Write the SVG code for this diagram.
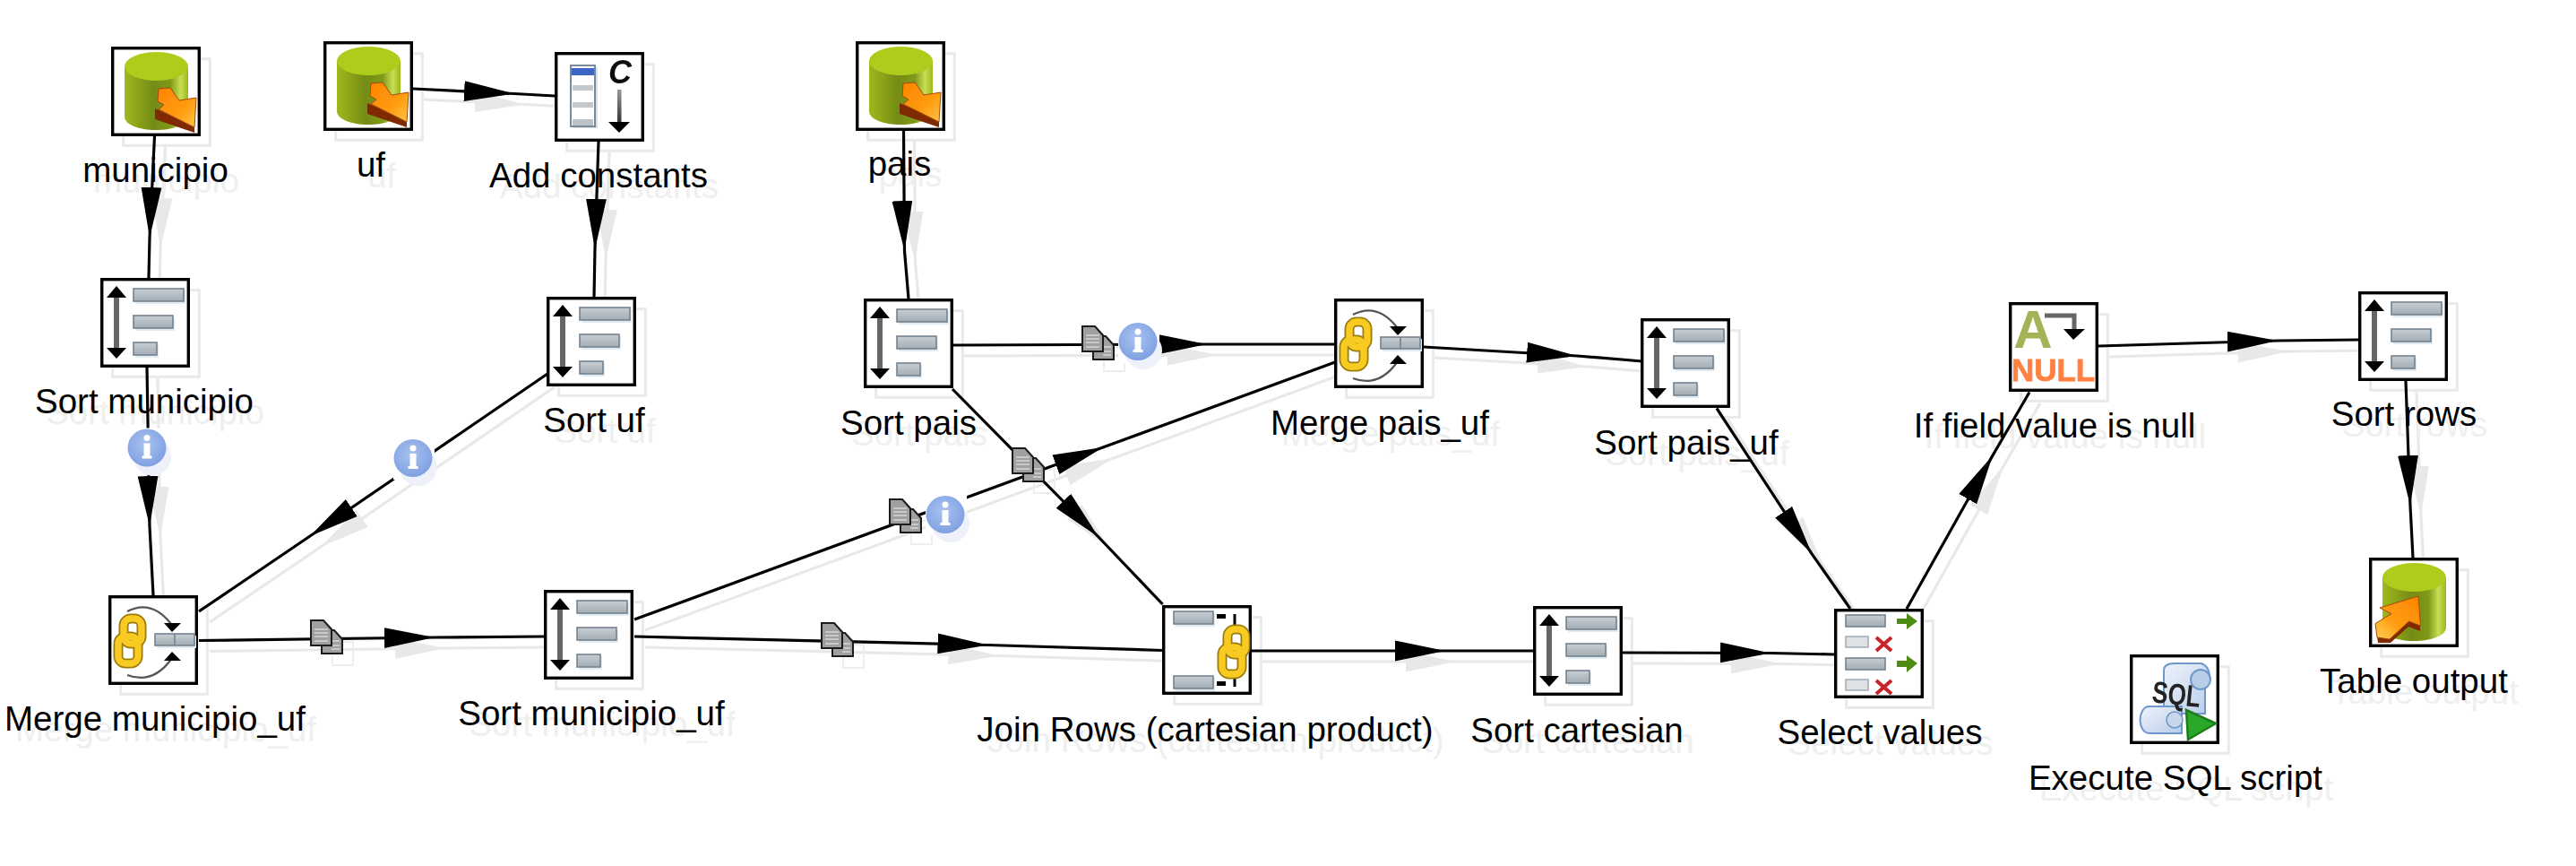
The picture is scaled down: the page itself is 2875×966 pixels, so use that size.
<svg xmlns="http://www.w3.org/2000/svg" width="2875" height="966" viewBox="0 0 2875 966">
<style>
text{font-family:"Liberation Sans",Arial,sans-serif}
.node{fill:#000}
.lbl{font-size:38.5px;text-anchor:middle}
.ls{fill:#efefef}
.bx{fill:#fff;stroke:#000;stroke-width:3.4}
.bs{fill:none;stroke:#e9e9e9;stroke-width:3}
.c{fill:none;stroke:#000;stroke-width:3.2;marker-mid:url(#head)}
.bar{fill:url(#barFill);stroke:#74838f;stroke-width:1.6}
.barl{fill:#dfe2e5;stroke:#a5b0b8;stroke-width:1.6}
.bsh{fill:#e2eaf2}
.link{fill:none;stroke:#9a7c10;stroke-width:11}
.linki{fill:none;stroke:#f8ca20;stroke-width:7.5}
.arc{fill:none;stroke:#555;stroke-width:2.2}
.blk{fill:#000}
.page{fill:#a0a0a0;stroke:#1c1c1c;stroke-width:2}
.pl{stroke:#d6d6d6;stroke-width:1.6}
.x{stroke:#c9232a;stroke-width:4;fill:none}
.hs{fill:none;stroke:#eee;stroke-width:2}
</style>
<defs>
<marker id="head" markerUnits="userSpaceOnUse" markerWidth="56" markerHeight="24" viewBox="0 0 54 22" refX="54" refY="11" orient="auto"><polygon points="0,0 54,11 0,22" fill="#000"/></marker>
<filter id="ghost" filterUnits="userSpaceOnUse" x="0" y="0" width="2875" height="966" color-interpolation-filters="sRGB"><feColorMatrix type="matrix" values="0 0 0 0 .91 0 0 0 0 .91 0 0 0 0 .91 0 0 0 1 0"/></filter>
<filter id="soft" x="-10%" y="-10%" width="120%" height="120%"><feGaussianBlur stdDeviation=".55"/></filter>
<linearGradient id="barFill" x1="0" y1="0" x2="0" y2="1"><stop offset="0" stop-color="#c8ced3"/><stop offset="1" stop-color="#a3adb5"/></linearGradient>
<linearGradient id="cyl" x1="0" y1="0" x2="1" y2="0"><stop offset="0" stop-color="#a0b81e"/><stop offset=".45" stop-color="#748c12"/><stop offset=".72" stop-color="#80991a"/><stop offset=".88" stop-color="#c8df52"/><stop offset="1" stop-color="#9ab81c"/></linearGradient>
<linearGradient id="ora" x1="0" y1="0" x2="1" y2="1"><stop offset="0" stop-color="#ff8400"/><stop offset=".6" stop-color="#ff9c10"/><stop offset="1" stop-color="#ffc64a"/></linearGradient>
<linearGradient id="ora2" x1="1" y1="0" x2="0" y2="1"><stop offset="0" stop-color="#ff8400"/><stop offset=".6" stop-color="#ff9c10"/><stop offset="1" stop-color="#ffd35a"/></linearGradient>
<linearGradient id="shaft" x1="0" y1="0" x2="0" y2="1"><stop offset="0" stop-color="#999"/><stop offset="1" stop-color="#333"/></linearGradient>
<linearGradient id="paper" x1="0" y1="0" x2="1" y2="1"><stop offset="0" stop-color="#eef3fb"/><stop offset="1" stop-color="#b9cde9"/></linearGradient>
<radialGradient id="inf" cx=".45" cy=".4" r=".65"><stop offset="0" stop-color="#a9c3f0"/><stop offset="1" stop-color="#7c9de0"/></radialGradient>
<g id="box"><rect class="bs" x="13.7" y="13.7" width="96.6" height="96.6"/><rect class="bx" x="1.7" y="1.7" width="96.6" height="96.6"/></g>
<g id="i-sort" filter="url(#soft)">
<rect class="bsh" x="39" y="14" width="56" height="15"/><rect class="bsh" x="39" y="44" width="44" height="15"/><rect class="bsh" x="39" y="74" width="26" height="15"/>
<rect x="15" y="18" width="6" height="64" fill="#666"/>
<polygon class="blk" points="18,9 29,22 7,22"/><polygon class="blk" points="18,90 29,78 7,78"/>
<rect class="bar" x="37" y="12" width="56" height="14"/><rect class="bar" x="37" y="42" width="44" height="14"/><rect class="bar" x="37" y="72" width="26" height="14"/>
</g>
<g id="i-cyl"><path d="M15 22V78C15 87 31 93 50 93S86 87 86 78V22Z" fill="url(#cyl)"/><ellipse cx="50.500" cy="22" rx="35.500" ry="16" fill="#afcb1e"/></g>
<g id="i-in" filter="url(#soft)"><use href="#i-cyl"/>
<polygon points="49,69 93,88 93,96 49,81" fill="#7f2a06"/>
<polygon points="53,47 66,46 76,60 95,57 93,90 53,70 59,65 52,61" fill="url(#ora)" stroke="#a8480a" stroke-width="1"/></g>
<g id="i-out" filter="url(#soft)"><use href="#i-cyl"/>
<polygon points="57,76 57,82 44,77 24,95 10,95 7,73 23,91 44,71" fill="#7f2a06"/>
<polygon points="55,43 57.500,76 44.600,71 23,91 9,89 7,73.600 25,62.600 12,56" fill="url(#ora2)" stroke="#a8480a" stroke-width="1"/></g>
<g id="chain"><rect class="link" x="11" y="5" width="20" height="28" rx="8"/><rect class="link" x="5" y="25" width="22" height="30" rx="8"/>
<rect class="linki" x="5" y="25" width="22" height="30" rx="8"/><rect class="linki" x="11" y="5" width="20" height="28" rx="8"/></g>
<g id="i-merge" filter="url(#soft)">
<path class="arc" d="M21 18Q48 4 70 32"/><path class="arc" d="M21 89Q50 100 71 70"/>
<use href="#chain" x="6" y="21"/>
<polygon class="blk" points="62,31 81,31 71,41"/><polygon class="blk" points="62,73 81,73 71,63"/>
<rect class="bsh" x="54" y="45" width="44" height="14"/><rect class="bar" x="52" y="43" width="44" height="13"/><line x1="74" y1="43" x2="74" y2="56" stroke="#74838f" stroke-width="1.600"/>
</g>
<g id="i-const" filter="url(#soft)">
<rect x="21" y="17" width="27" height="68" fill="#d6e2ee"/>
<rect x="18" y="15" width="27" height="68" fill="#fff" stroke="#7a8a96" stroke-width="2"/>
<rect x="19" y="18" width="25" height="8" fill="#3d66c4"/>
<rect x="20" y="37" width="23" height="6" fill="#c3c8cc"/><rect x="20" y="56" width="23" height="6" fill="#c3c8cc"/><rect x="20" y="75" width="23" height="7" fill="#bcc2c7"/>
<text x="60" y="35" font-size="36" font-style="italic" font-weight="bold" font-family="'Liberation Serif',serif" fill="#111">C</text>
<rect x="70" y="42" width="4.500" height="37" fill="url(#shaft)"/><polygon class="blk" points="60,78 84,78 72,90"/>
</g>
<g id="i-join" filter="url(#soft)">
<rect class="bsh" x="15" y="9" width="44" height="15"/><rect class="bar" x="13" y="7" width="44" height="14"/>
<rect class="blk" x="61" y="10" width="10" height="5"/><rect class="blk" x="79.500" y="10" width="3" height="13"/>
<rect class="bsh" x="15" y="81" width="44" height="15"/><rect class="bar" x="13" y="79" width="44" height="14"/>
<rect class="blk" x="61" y="85" width="10" height="5"/><rect class="blk" x="79.500" y="80" width="3" height="11"/>
<use href="#chain" x="62" y="22"/>
</g>
<g id="i-select" filter="url(#soft)">
<rect class="bar" x="13" y="7" width="44" height="13"/><rect class="barl" x="13" y="31" width="25" height="12"/>
<rect class="bar" x="13" y="55" width="44" height="13"/><rect class="barl" x="13" y="79" width="25" height="12"/>
<polygon points="70,11 81,11 81,5 93,14 81,23 81,17 70,17" fill="#4f8c12"/>
<polygon points="70,58 81,58 81,52 93,61 81,71 81,65 70,65" fill="#4f8c12"/>
<path class="x" d="M47 32L64 47M64 32L47 47"/><path class="x" d="M47 80L64 95M64 80L47 95"/>
</g>
<g id="i-null" filter="url(#soft)">
<text x="27" y="51" font-size="60" font-weight="bold" font-family="'Liberation Serif',serif" text-anchor="middle" fill="#a3b456">A</text>
<path d="M40 15H73V32" fill="none" stroke="#666" stroke-width="5"/><polygon class="blk" points="61,30 85,30 72,42"/>
<text x="3" y="88" font-size="35" font-weight="bold" textLength="93" lengthAdjust="spacingAndGlyphs" fill="#ff8040" stroke="#ff8040" stroke-width=".8">NULL</text>
</g>
<g id="i-sql" filter="url(#soft)">
<path d="M38 18C38 12 44 10 50 10H80C90 14 92 28 84 38V66H38Z" fill="url(#paper)" stroke="#6e97ca" stroke-width="2"/>
<circle cx="79" cy="28" r="11" fill="#b9cde9" stroke="#6e97ca" stroke-width="2"/>
<path d="M22 58H58V88H22C8 88 8 58 22 58Z" fill="url(#paper)" stroke="#6e97ca" stroke-width="2"/>
<circle cx="50" cy="73" r="9" fill="#c6d6ec" stroke="#6e97ca" stroke-width="1.500"/>
<text x="25" y="56" font-size="34" font-weight="bold" textLength="54" lengthAdjust="spacingAndGlyphs" fill="#222" transform="rotate(6 50 45)">SQL</text>
<polygon points="63,62 96,77 65,95" fill="#2ba82b" stroke="#1c7d1c" stroke-width="2.500"/>
</g>
<g id="copy">
<path class="page" d="M13 12H27L36 22V38H13Z"/>
<path class="pl" d="M24 24H33M24 29H33M24 33H33"/>
<path class="page" d="M1 1H15L24 11V29H1Z"/>
<path class="pl" d="M5 11H20M5 15H20M5 19H20M5 24H20"/>
</g>
<rect id="copy-shadow" class="hs" x="25" y="25" width="23" height="26"/>
<g id="info">
<rect x="-22" y="-22" width="46" height="46" fill="#fff"/>
<ellipse cx="6" cy="10" rx="21" ry="21" fill="#eef1fa"/>
<ellipse cx="0" cy="0" rx="21.500" ry="21" fill="url(#inf)" filter="url(#soft)"/>
<circle cx="0" cy="-11" r="3.500" fill="#fff"/><rect x="-3.500" y="-5" width="7" height="15" fill="#fff"/><rect x="-5.500" y="9" width="11" height="3" fill="#fff"/>
</g>
</defs>
<rect width="2875" height="966" fill="#fff"/>
<use id="connector-shadows" href="#connectors" x="12" y="12" filter="url(#ghost)"/>
<g id="hop-shadows">
<use href="#copy-shadow" x="346" y="691"/>
<use href="#copy-shadow" x="992" y="556"/>
<use href="#copy-shadow" x="916" y="694"/>
<use href="#copy-shadow" x="1207" y="363"/>
<use href="#copy-shadow" x="1129" y="499"/>
</g>
<g id="nodes">
<g class="node" id="node-municipio"><use href="#box" x="124" y="52"/><use href="#i-in" x="124" y="52"/><use class="ls" href="#l1" x="12" y="12"/><text id="l1" class="lbl" x="173.500" y="203">municipio</text></g>
<g class="node" id="node-uf"><use href="#box" x="361" y="46"/><use href="#i-in" x="361" y="46"/><use class="ls" href="#l2" x="12" y="12"/><text id="l2" class="lbl" x="414" y="197">uf</text></g>
<g class="node" id="node-add-constants"><use href="#box" x="619" y="58"/><use href="#i-const" x="619" y="58"/><use class="ls" href="#l3" x="12" y="12"/><text id="l3" class="lbl" x="668" y="209">Add constants</text></g>
<g class="node" id="node-pais"><use href="#box" x="955" y="46"/><use href="#i-in" x="955" y="46"/><use class="ls" href="#l4" x="12" y="12"/><text id="l4" class="lbl" x="1004" y="196">pais</text></g>
<g class="node" id="node-sort-municipio"><use href="#box" x="112" y="310"/><use href="#i-sort" x="112" y="310"/><use class="ls" href="#l5" x="12" y="12"/><text id="l5" class="lbl" x="161" y="461">Sort municipio</text></g>
<g class="node" id="node-sort-uf"><use href="#box" x="610" y="331"/><use href="#i-sort" x="610" y="331"/><use class="ls" href="#l6" x="12" y="12"/><text id="l6" class="lbl" x="663" y="482">Sort uf</text></g>
<g class="node" id="node-sort-pais"><use href="#box" x="964" y="333"/><use href="#i-sort" x="964" y="333"/><use class="ls" href="#l7" x="12" y="12"/><text id="l7" class="lbl" x="1014" y="485">Sort pais</text></g>
<g class="node" id="node-merge-pais-uf"><use href="#box" x="1489" y="333"/><use href="#i-merge" x="1489" y="333"/><use class="ls" href="#l8" x="12" y="12"/><text id="l8" class="lbl" x="1540" y="485">Merge pais_uf</text></g>
<g class="node" id="node-sort-pais-uf"><use href="#box" x="1831" y="355"/><use href="#i-sort" x="1831" y="355"/><use class="ls" href="#l9" x="12" y="12"/><text id="l9" class="lbl" x="1882" y="507">Sort pais_uf</text></g>
<g class="node" id="node-if-null"><use href="#box" x="2242" y="337"/><use href="#i-null" x="2242" y="337"/><use class="ls" href="#l10" x="12" y="12"/><text id="l10" class="lbl" x="2293" y="488">If field value is null</text></g>
<g class="node" id="node-sort-rows"><use href="#box" x="2632" y="325"/><use href="#i-sort" x="2632" y="325"/><use class="ls" href="#l11" x="12" y="12"/><text id="l11" class="lbl" x="2683" y="475">Sort rows</text></g>
<g class="node" id="node-table-output"><use href="#box" x="2644" y="622"/><use href="#i-out" x="2644" y="622"/><use class="ls" href="#l12" x="12" y="12"/><text id="l12" class="lbl" x="2694" y="773">Table output</text></g>
<g class="node" id="node-merge-municipio-uf"><use href="#box" x="121" y="664"/><use href="#i-merge" x="121" y="664"/><use class="ls" href="#l13" x="12" y="12"/><text id="l13" class="lbl" x="173" y="815">Merge municipio_uf</text></g>
<g class="node" id="node-sort-municipio-uf"><use href="#box" x="607" y="658"/><use href="#i-sort" x="607" y="658"/><use class="ls" href="#l14" x="12" y="12"/><text id="l14" class="lbl" x="660" y="809">Sort municipio_uf</text></g>
<g class="node" id="node-join-rows"><use href="#box" x="1297" y="675"/><use href="#i-join" x="1297" y="675"/><use class="ls" href="#l15" x="12" y="12"/><text id="l15" class="lbl" x="1345" y="827">Join Rows (cartesian product)</text></g>
<g class="node" id="node-sort-cartesian"><use href="#box" x="1711" y="676"/><use href="#i-sort" x="1711" y="676"/><use class="ls" href="#l16" x="12" y="12"/><text id="l16" class="lbl" x="1760" y="828">Sort cartesian</text></g>
<g class="node" id="node-select-values"><use href="#box" x="2047" y="679"/><use href="#i-select" x="2047" y="679"/><use class="ls" href="#l17" x="12" y="12"/><text id="l17" class="lbl" x="2098" y="830">Select values</text></g>
<g class="node" id="node-execute-sql"><use href="#box" x="2377" y="730"/><use href="#i-sql" x="2377" y="730"/><use class="ls" href="#l18" x="12" y="12"/><text id="l18" class="lbl" x="2428" y="881">Execute SQL script</text></g>
</g>
<g id="connectors">
<polyline class="c" points="172.500,152 167,265 166,310"/>
<polyline class="c" points="461,99 574,104.500 619,107"/>
<polyline class="c" points="668,158 664,278 663,331"/>
<polyline class="c" points="164,410 167,587 171,664"/>
<polyline class="c" points="611,417 346,598 222,682"/>
<polyline class="c" points="222,714.500 485,711 607,710"/>
<polyline class="c" points="708,691 1231,499 1490,404"/>
<polyline class="c" points="708,710 1102.500,719.500 1298,725.500"/>
<polyline class="c" points="1008.500,146 1009.500,280 1014,333"/>
<polyline class="c" points="1064,385 1347,384 1489,384"/>
<polyline class="c" points="1063,434 1226,599 1297.500,674"/>
<polyline class="c" points="1589,387 1760,397 1833,403"/>
<polyline class="c" points="1397,726 1613,726 1712,726"/>
<polyline class="c" points="1811,728 1976,728.500 2047,730"/>
<polyline class="c" points="1916,455.500 2022,617.600 2065,679"/>
<polyline class="c" points="2128,679 2224,508 2265,437.500"/>
<polyline class="c" points="2342,386 2542,380 2632,379"/>
<polyline class="c" points="2685,425 2690,564 2693,622"/>
</g>
<g id="hop-icons">
<use href="#info" x="164" y="499.500"/>
<use href="#info" x="461" y="511"/>
<use href="#copy" x="346" y="691"/>
<use href="#copy" x="992" y="556"/>
<use href="#info" x="1055" y="574"/>
<use href="#copy" x="916" y="694"/>
<use href="#copy" x="1207" y="363"/>
<use href="#info" x="1270" y="381"/>
<use href="#copy" x="1129" y="499"/>
</g>
</svg>
